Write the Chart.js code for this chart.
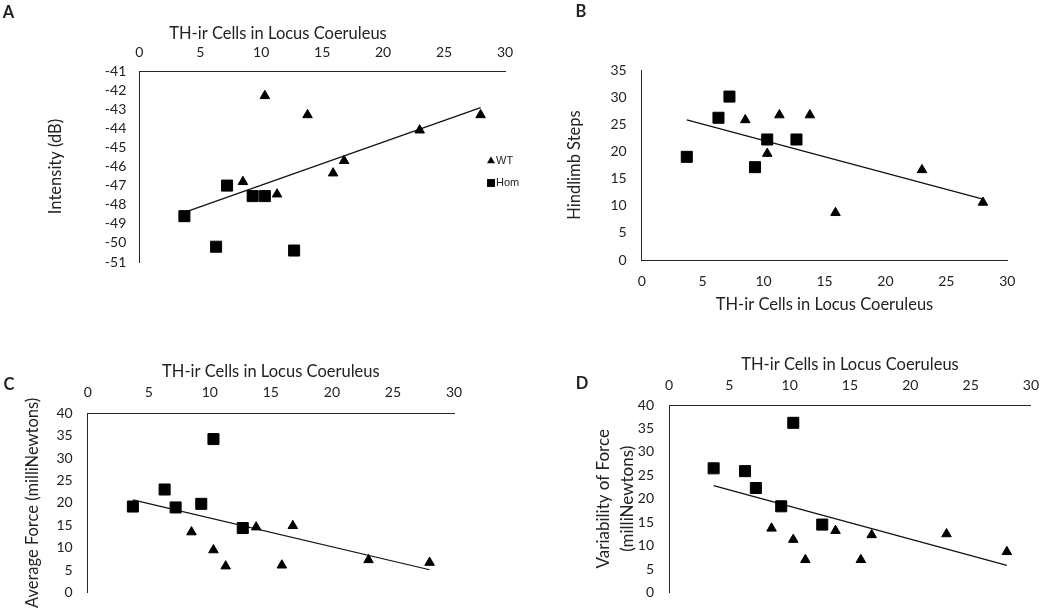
<!DOCTYPE html>
<html>
<head>
<meta charset="utf-8">
<script src="https://cdn.jsdelivr.net/npm/chart.js@4"></script>
<style>
  body { margin: 0; background: #fff; }
  .wrap { position: relative; width: 1050px; height: 616px; }
  canvas { position: absolute; }
</style>
</head>
<body>
<div class="wrap">
  <canvas id="chartA" width="525" height="300" style="left:0;top:0"></canvas>
  <canvas id="chartB" width="525" height="320" style="left:525px;top:0"></canvas>
  <canvas id="chartC" width="525" height="296" style="left:0;top:320px"></canvas>
  <canvas id="chartD" width="525" height="296" style="left:525px;top:320px"></canvas>
</div>
<script>
// TH-ir cells per animal (shared x values)
const wtCells = [8.5, 10.3, 11.3, 13.8, 15.9, 16.8, 23.0, 28.0];
const homCells = [3.7, 6.3, 7.2, 9.3, 10.3, 12.7];
const fitCells = [3.7, 28.0];

// A - intensity (dB)
const wtIntensity = [-46.8, -42.3, -47.45, -43.3, -46.35, -45.7, -44.1, -43.3];
const homIntensity = [-48.6, -50.2, -47.0, -47.55, -47.55, -50.4];
const fitIntensity = [-48.4, -42.92];

// B - hindlimb steps (one WT animal has no value)
const wtSteps = [25.8, 19.6, 26.7, 26.7, 8.7, null, 16.6, 10.6];
const homSteps = [19.0, 26.2, 30.1, 17.1, 22.2, 22.2];
const fitSteps = [25.8, 11.2];

// C - average force
const wtForce = [13.5, 9.5, 5.9, 14.6, 6.1, 14.9, 7.3, 6.7];
const homForce = [19.2, 23.0, 19.0, 19.8, 34.25, 14.4];
const fitForce = [20.7, 5.1];

// D - variability of force
const wtVariability = [13.7, 11.3, 7.0, 13.2, 7.0, 12.3, 12.5, 8.7];
const homVariability = [26.5, 25.9, 22.3, 18.4, 36.2, 14.5];
const fitVariability = [22.8, 5.8];

const TEXT = "#222";
const AXIS = "#262626";
const TITLE_SIZE = 16.5;
const TICK_SIZE = 14;

Chart.defaults.font.family = "Lato";
Chart.defaults.color = TEXT;

function pairs(xs, ys) {
  return xs.map((x, i) => ({ x: x, y: ys[i] })).filter((p) => p.y !== null);
}

// letter, shifted axis title and small legend drawn on the canvas
const panelDecor = {
  id: "panelDecor",
  afterDraw(chart, args, opts) {
    const ctx = chart.ctx;
    ctx.save();
    ctx.fillStyle = TEXT;
    ctx.textBaseline = "middle";
    if (opts.letter) {
      ctx.font = "bold 16.5px Lato";
      ctx.textAlign = "center";
      ctx.fillText(opts.letter.text, opts.letter.x, opts.letter.y);
    }
    if (opts.xTitle) {
      ctx.font = TITLE_SIZE + "px Lato";
      ctx.textAlign = "center";
      ctx.fillText(opts.xTitle.text, opts.xTitle.x, opts.xTitle.y);
    }
    if (opts.legend) {
      const lg = opts.legend;
      chart.data.datasets
        .filter((ds) => !ds.showLine)
        .forEach((ds, i) => {
          const y = lg.y + i * lg.gap;
          ctx.fillStyle = "#000";
          ctx.strokeStyle = "#000";
          Chart.helpers.drawPoint(ctx, {
            pointStyle: ds.pointStyle,
            radius: ds.pointStyle === "rect" ? 5.6 : 4.6,
            rotation: 0,
            borderWidth: 0
          }, lg.x, y);
          ctx.fillStyle = TEXT;
          ctx.font = "11px 'Liberation Sans'";
          ctx.textAlign = "left";
          ctx.fillText(ds.label, lg.x + 5, y);
        });
    }
    ctx.restore();
  }
};

function initPanel(id, cfg) {
  const datasets = [
    {
      label: "WT",
      data: pairs(wtCells, cfg.wt),
      pointStyle: "triangle",
      pointRadius: 5.5,
      backgroundColor: "#000",
      borderColor: "#000",
      borderWidth: 1
    },
    {
      label: "Hom",
      data: pairs(homCells, cfg.hom),
      pointStyle: "rect",
      pointRadius: 7.8,
      backgroundColor: "#000",
      borderColor: "#000",
      borderWidth: 1
    },
    {
      type: "line",
      label: "fit",
      data: pairs(fitCells, cfg.fit),
      showLine: true,
      borderColor: "#111",
      borderWidth: 1.2,
      pointRadius: 0
    }
  ];

  const options = {
    responsive: false,
    animation: false,
    devicePixelRatio: 1,
    layout: { padding: cfg.padding },
    plugins: {
      legend: { display: false },
      tooltip: { enabled: false },
      panelDecor: cfg.decor
    },
    scales: {
      x: {
        type: "linear",
        position: cfg.xPos,
        min: 0,
        max: 30,
        ticks: { stepSize: 5, autoSkip: false, padding: cfg.xTickPad, font: { size: TICK_SIZE } },
        grid: { display: false, drawTicks: false },
        border: { display: true, color: AXIS, width: 1 },
        title: {
          display: !!cfg.xTitle,
          text: cfg.xTitle,
          font: { size: TITLE_SIZE },
          padding: cfg.xTitlePad
        },
        afterFit: (scale) => { scale.height = cfg.xHeight; }
      },
      y: {
        type: "linear",
        min: cfg.yMin,
        max: cfg.yMax,
        ticks: { stepSize: cfg.yStep, autoSkip: false, padding: cfg.yTickPad, font: { size: TICK_SIZE } },
        grid: { display: false, drawTicks: false },
        border: { display: true, color: AXIS, width: 1 },
        title: {
          display: true,
          text: cfg.yTitle,
          font: { size: cfg.yTitleSize || TITLE_SIZE, lineHeight: cfg.yLineHeight || 1.2 },
          padding: { top: cfg.yTitlePad, bottom: 0 }
        },
        afterFit: (scale) => { scale.width = cfg.yWidth; }
      }
    }
  };

  const ctx = document.getElementById(id).getContext("2d");
  return new Chart(ctx, {
    type: "scatter",
    data: { datasets: datasets },
    options: options,
    plugins: [panelDecor]
  });
}

const xLabel = "TH-ir Cells in Locus Coeruleus";

initPanel("chartA", {
  wt: wtIntensity, hom: homIntensity, fit: fitIntensity,
  xPos: "top", xHeight: 71, xTickPad: 10.6, xTitle: null,
  yMin: -51, yMax: -41, yStep: 1, yWidth: 139.3, yTickPad: 13,
  yTitle: "Intensity (dB)", yTitlePad: 45.6,
  padding: { left: 0, top: 0, right: 20, bottom: 38 },
  decor: {
    letter: { text: "A", x: 8.5, y: 13 },
    xTitle: { text: xLabel, x: 278, y: 33.5 },
    legend: { x: 491, y: 161, gap: 22 }
  }
});

initPanel("chartB", {
  wt: wtSteps, hom: homSteps, fit: fitSteps,
  xPos: "bottom", xHeight: 60, xTickPad: 12.6, xTitle: xLabel,
  xTitlePad: { top: 0, bottom: 5.1 },
  yMin: 0, yMax: 35, yStep: 5, yWidth: 116.7, yTickPad: 15,
  yTitle: "Hindlimb Steps", yTitlePad: 40,
  padding: { left: 0, top: 70, right: 42.7, bottom: 0 },
  decor: { letter: { text: "B", x: 56, y: 12 } }
});

initPanel("chartC", {
  wt: wtForce, hom: homForce, fit: fitForce,
  xPos: "top", xHeight: 93.3, xTickPad: 12.2, xTitle: xLabel,
  xTitlePad: { top: 41.8, bottom: 0 },
  yMin: 0, yMax: 40, yStep: 5, yWidth: 87.7, yTickPad: 15,
  yTitle: "Average Force (milliNewtons)", yTitlePad: 23.1,
  padding: { left: 0, top: 0, right: 71, bottom: 12.7 },
  decor: { letter: { text: "C", x: 9, y: 65 } }
});

initPanel("chartD", {
  wt: wtVariability, hom: homVariability, fit: fitVariability,
  xPos: "top", xHeight: 85, xTickPad: 10.9, xTitle: xLabel,
  xTitlePad: { top: 34.4, bottom: 0 },
  yMin: 0, yMax: 40, yStep: 5, yWidth: 144, yTickPad: 15,
  yTitle: ["Variability of Force", "(milliNewtons)"], yTitlePad: 66,
  yTitleSize: 17, yLineHeight: 1.45,
  padding: { left: 0, top: 0, right: 15, bottom: 20 },
  decor: { letter: { text: "D", x: 57, y: 64 } }
});
</script>
</body>
</html>
